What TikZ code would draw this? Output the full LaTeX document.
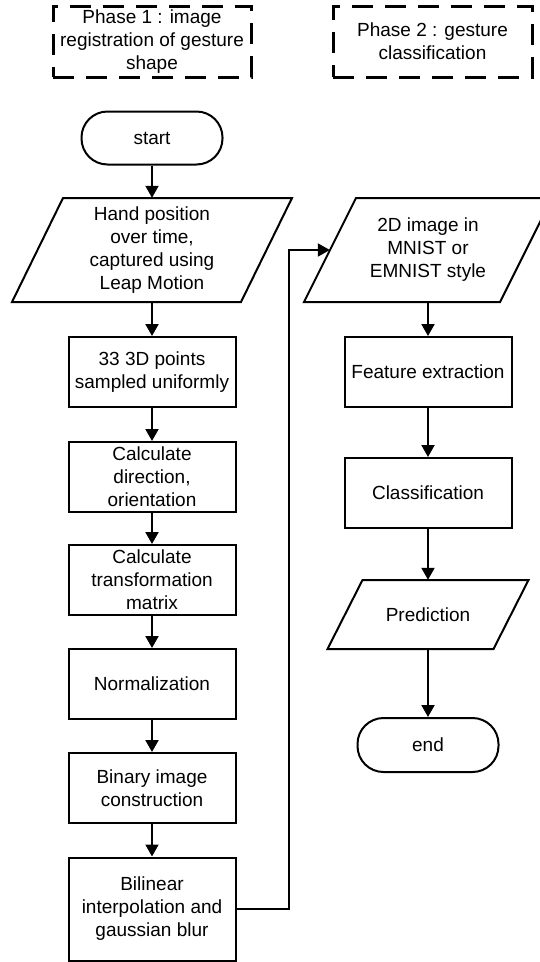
\documentclass[tikz,border=0pt]{standalone}
\usepackage{fontspec}
\setmainfont{Liberation Sans}
\usetikzlibrary{arrows.meta,calc}
\tikzset{
  base/.style={font=\fontsize{19}{23}\selectfont, align=center, inner sep=0pt},
  proc/.style={base, draw, line width=2pt, minimum width=167pt, minimum height=70pt},
  term/.style={base, draw, line width=2pt, rounded corners=26pt, minimum width=141pt, minimum height=53pt},
  io/.style={base, minimum height=104pt},
  iobox/.style={line width=2pt, line join=miter},
  phase/.style={base, draw, line width=3pt, dash pattern=on 21pt off 12pt, minimum width=198pt, minimum height=71pt},
  arr/.style={line width=2pt, -{Triangle[length=12pt,width=13pt]}},
}
\begin{document}
\begin{tikzpicture}[x=1pt,y=-1pt]
\useasboundingbox (0,0) rectangle (540,962);
% phase labels
\node[phase] (ph1) at (152,41.5) {Phase 1 : image\\registration of gesture\\shape};
\node[phase, minimum width=199pt] (ph2) at (432.5,41.5) {Phase 2 : gesture\\classification};
% left column
\node[term] (start) at (152,138) {start};
\draw[iobox] (63,198) -- (292,198) -- (241,302) -- (12,302) -- cycle;
\node[io, minimum width=178pt] (p1) at (152,250) {Hand position\\over time,\\captured using\\Leap Motion};
\node[proc] (b1) at (152,372) {33 3D points\\sampled uniformly};
\node[proc] (b2) at (152,477) {Calculate\\direction,\\orientation};
\node[proc] (b3) at (152,580) {Calculate\\transformation\\matrix};
\node[proc] (b4) at (152,684) {Normalization};
\node[proc] (b5) at (152,788) {Binary image\\construction};
\node[proc, minimum height=103pt] (b6) at (152,909) {Bilinear\\interpolation and\\gaussian blur};
% right column
\draw[iobox] (356,198) -- (552,198) -- (500,302) -- (304,302) -- cycle;
\node[io, minimum width=196pt] (p2) at (428,250) {2D image in\\MNIST or\\EMNIST style};
\node[proc] (f1) at (428,372) {Feature extraction};
\node[proc] (f2) at (428,493) {Classification};
\draw[iobox] (362.5,580) -- (528.5,580) -- (493.5,649) -- (327.5,649) -- cycle;
\node[base, minimum width=140pt, minimum height=69pt] (p3) at (428,614.5) {Prediction};
\node[term, minimum height=54pt] (end) at (428,745) {end};
% connectors
\draw[arr] (start) -- (p1);
\draw[arr] (p1) -- (b1);
\draw[arr] (b1) -- (b2);
\draw[arr] (b2) -- (b3);
\draw[arr] (b3) -- (b4);
\draw[arr] (b4) -- (b5);
\draw[arr] (b5) -- (b6);
\draw[arr] (b6.east) -- ++(52,0) |- (p2.west);
\draw[arr] (p2) -- (f1);
\draw[arr] (f1) -- (f2);
\draw[arr] (f2) -- (p3);
\draw[arr] (p3) -- (end);
\end{tikzpicture}
\end{document}
